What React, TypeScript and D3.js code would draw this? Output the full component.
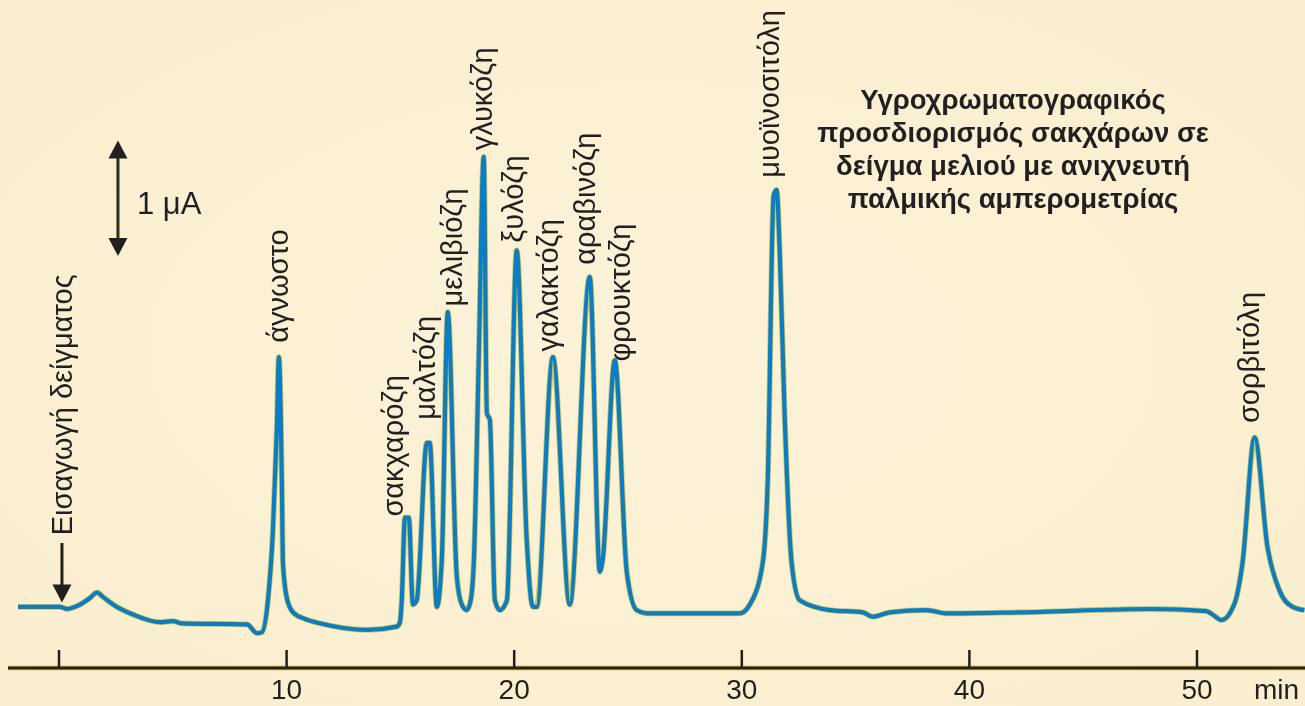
import React from "react";
import * as d3 from "d3";

// Retention time (min) and detector signal (µA, relative to baseline)
const timeMin = [
  -1.8, 0.04, 0.35, 0.83, 1.36, 1.67, 1.93, 2.46, 3.25, 4.44, 5.01, 5.4, 8.26, 8.7, 8.92,
  9.18, 9.4, 9.57, 9.66, 9.79, 9.84, 10.01, 10.28, 10.8, 11.46, 13.53, 14.84, 14.98,
  15.06, 15.2, 15.37, 15.55, 15.72, 16.16, 16.29, 16.6, 16.82, 17.08, 17.48, 17.7, 17.92,
  18.09, 18.23, 18.45, 18.66, 18.8, 18.93, 19.15, 19.37, 19.68, 20.11, 20.55, 20.82, 20.99,
  21.7, 22.44, 23.32, 23.76, 23.89, 24.42, 24.95, 25.38, 25.82, 29.91, 30.35, 30.92, 31.14,
  31.4, 31.53, 31.66, 31.88, 32.19, 32.54, 33.86, 35.31, 35.75, 36.5, 38.12, 39.0, 42.2,
  48.05, 50.42, 50.68, 51.08, 51.65, 52.0, 52.53, 53.1, 53.62, 54.2, 54.72,
];
const signal = [
  0.12, 0.12, 0.1, 0.13, 0.2, 0.25, 0.21, 0.13, 0.05, -0.02, -0.01, -0.03, -0.04, -0.12, -0.11,
  0.18, 0.82, 1.73, 2.39, 1.27, 0.52, 0.2, 0.07, 0.01, -0.03, -0.09, -0.06, -0.02,
  0.18, 0.93, 0.93, 0.14, 0.18, 1.61, 1.61, 0.12, 0.55, 2.8, 0.39, 0.14, 0.09,
  0.18, 0.55, 2.45, 4.21, 1.88, 1.82, 0.18, 0.09, 0.18, 3.36, 0.73, 0.12, 0.12,
  2.39, 0.14, 3.12, 0.44, 0.55, 2.36, 0.43, 0.09, 0.06, 0.06, 0.14, 0.52, 1.27,
  3.86, 3.91, 3.39, 1.88, 0.52, 0.18, 0.09, 0.07, 0.03, 0.07, 0.09, 0.06, 0.07,
  0.1, 0.08, 0.05, 0.0, 0.15, 0.52, 1.66, 0.66, 0.27, 0.12, 0.09,
];

// Peak labels: name, anchor time (min), anchor signal (µA)
const peakNames = [
  "άγνωστο", "σακχαρόζη", "μαλτόζη", "μελιβιόζη", "γλυκόζη", "ξυλόζη",
  "γαλακτόζη", "αραβινόζη", "φρουκτόζη", "μυοϊνοσιτόλη", "σορβιτόλη",
];
const peakLabelTimes = [10.06, 15.11, 16.51, 17.7, 19.02, 20.38, 21.91, 23.54, 25.08, 31.62, 52.74];
const peakLabelLevels = [2.52, 0.94, 1.82, 2.85, 4.27, 3.43, 2.44, 3.23, 2.35, 4.02, 1.79];

const injectionLabel = "Εισαγωγή δείγματος";
const injectionTime = 0.13;
const injectionLabelTime = 0.57;
const injectionFrom = 0.7;
const injectionTo = 0.16;
const injectionLabelLevel = 0.77;

const scaleBarLabel = "1 μA";
const scaleBarTime = 2.59;
const scaleBarFrom = 3.31;
const scaleBarTo = 4.36;

const tickValues = [0, 10, 20, 30, 40, 50];
const axisUnit = "min";

const titleLines = [
  "Υγροχρωματογραφικός",
  "προσδιορισμός σακχάρων σε",
  "δείγμα μελιού με ανιχνευτή",
  "παλμικής αμπερομετρίας",
];

const W = 1305;
const H = 706;
const FONT = "'Liberation Sans', Arial, sans-serif";
const INK = "#231f20";
const BLUE = "#0a7dc6";

export default function App() {
  const x = d3.scaleLinear().domain([0, 50]).range([59, 1197]);
  const y = d3.scaleLinear().domain([0, 1]).range([620, 510]);
  const axisY = 668;

  const data = timeMin.map((t, i) => [t, signal[i]] as [number, number]);
  const line = d3
    .line<[number, number]>()
    .x((d) => x(d[0]))
    .y((d) => y(d[1]))
    .curve(d3.curveMonotoneX);
  const pathD = line(data) || "";

  const arrowHead = (cx: number, tipY: number, dir: number, w = 19, h = 18) =>
    `M${cx},${tipY} L${cx - w / 2},${tipY - dir * h} L${cx + w / 2},${tipY - dir * h} Z`;

  const sbx = x(scaleBarTime);
  const sbTop = y(scaleBarTo);
  const sbBot = y(scaleBarFrom);
  const ix = x(injectionTime);

  return (
    <svg
      width={W}
      height={H}
      style={{ position: "fixed", left: 0, top: 0, display: "block" }}
      fontFamily={FONT}
    >
      <defs>
        <radialGradient id="bg" cx="50%" cy="50%" r="75%">
          <stop offset="0%" stopColor="#fcf2d9" />
          <stop offset="100%" stopColor="#f9eecd" />
        </radialGradient>
      </defs>
      <rect x={0} y={0} width={W} height={H} fill="url(#bg)" />

      {/* x axis */}
      <line x1={8} x2={W} y1={axisY} y2={axisY} stroke="#e2cf4a" strokeWidth={5} />
      <line x1={8} x2={W} y1={axisY} y2={axisY} stroke={INK} strokeWidth={3} />
      {tickValues.map((v) => (
        <g key={v}>
          <line x1={x(v)} x2={x(v)} y1={axisY - 18} y2={axisY} stroke={INK} strokeWidth={2.5} />
          {v !== 0 && (
            <text x={x(v)} y={699} textAnchor="middle" fontSize={28} fill={INK}>
              {v}
            </text>
          )}
        </g>
      ))}
      <text x={1254} y={699} fontSize={28} fill={INK}>
        {axisUnit}
      </text>

      {/* chromatogram */}
      <path d={pathD} fill="none" stroke="#d8c54a" strokeWidth={5.8} strokeLinejoin="round" />
      <path d={pathD} fill="none" stroke={BLUE} strokeWidth={4.2} strokeLinejoin="round" />

      {/* peak labels */}
      {peakNames.map((n, i) => (
        <text
          key={n}
          transform={`translate(${x(peakLabelTimes[i])},${y(peakLabelLevels[i])}) rotate(-90)`}
          fontSize={29}
          fill={INK}
        >
          {n}
        </text>
      ))}

      {/* injection marker */}
      <line x1={ix} x2={ix} y1={y(injectionFrom)} y2={y(injectionTo) - 16} stroke={INK} strokeWidth={3} />
      <path d={arrowHead(ix, y(injectionTo), 1)} fill={INK} />
      <text
        transform={`translate(${x(injectionLabelTime)},${y(injectionLabelLevel)}) rotate(-90)`}
        fontSize={29}
        fill={INK}
      >
        {injectionLabel}
      </text>

      {/* 1 µA scale bar */}
      <line x1={sbx} x2={sbx} y1={sbTop + 16} y2={sbBot - 16} stroke="#2e2c1c" strokeWidth={3} />
      <path d={arrowHead(sbx, sbTop, -1)} fill={INK} />
      <path d={arrowHead(sbx, sbBot, 1)} fill={INK} />
      <text x={137} y={214} fontSize={31} fill={INK}>
        {scaleBarLabel}
      </text>

      {/* title */}
      {titleLines.map((l, i) => (
        <text
          key={l}
          x={1013}
          y={109 + i * 33}
          textAnchor="middle"
          fontSize={27.5}
          fontWeight="bold"
          fill={INK}
        >
          {l}
        </text>
      ))}
    </svg>
  );
}
